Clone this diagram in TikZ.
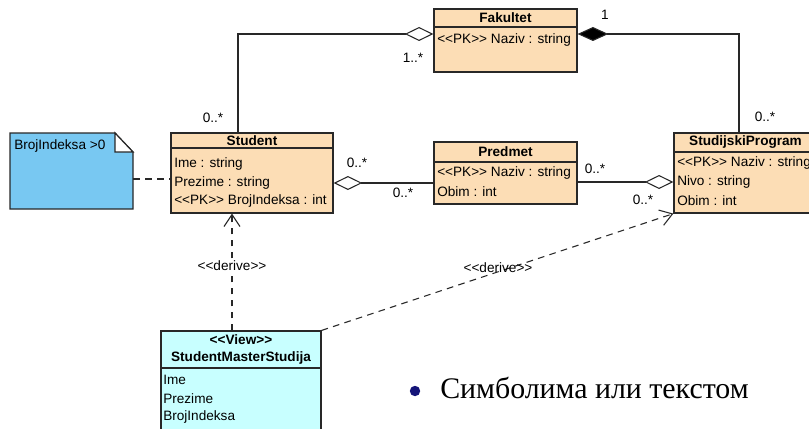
\documentclass[tikz,border=0pt]{standalone}
\usepackage{fontspec}
\setmainfont{Liberation Sans}[Ligatures=TeXOff]
\newfontfamily\bodyserif{Liberation Serif}
\usetikzlibrary{arrows.meta,fit}

\definecolor{classfill}{RGB}{252,221,181}
\definecolor{notefill}{RGB}{120,200,242}
\definecolor{viewfill}{RGB}{200,255,255}
\definecolor{bulletblue}{RGB}{20,20,120}
\definecolor{edge}{RGB}{40,40,40}

\tikzset{
  umlbox/.style={draw=edge, line width=0.9pt, inner sep=0pt},
  classbox/.style={umlbox, fill=classfill},
  viewbox/.style={umlbox, fill=viewfill},
  title/.style={font=\fontsize{10.2}{12}\selectfont\bfseries, inner sep=0pt},
  attr/.style={font=\fontsize{10.2}{12}\selectfont, anchor=west, inner sep=0pt},
  mult/.style={font=\fontsize{10.2}{12}\selectfont, inner sep=0pt},
  assoc/.style={draw=edge, line width=0.8pt},
  aggr/.tip={Diamond[open, fill=white, length=21.5pt, width=10.5pt]},
  comp/.tip={Diamond[fill=black, length=23pt, width=10.5pt]},
  barb/.tip={Straight Barb[length=9pt, width=12pt, line width=0.8pt]},
  depend/.style={assoc, dashed, dash pattern=on 5pt off 4pt},
}

\begin{document}
\begin{tikzpicture}[x=0.75pt, y=-0.75pt]
\useasboundingbox (0,0) rectangle (809,428);
\clip (0,0) rectangle (809,428);
\fill[white] (0,0) rectangle (809,428);

% ---- Fakultet
\node[classbox, fit={(434,9) (577,72)}] (fak) {};
\draw[umlbox] (fak.west |- 0,27) -- (fak.east |- 0,27);
\node[title] (fakT) at (505.5,18) {Fakultet};
\node[attr] (fakA) at (437,40) {<<PK>> Naziv : string};

% ---- Student
\node[classbox, fit={(171,133) (333,213)}] (stu) {};
\draw[umlbox] (stu.west |- 0,148) -- (stu.east |- 0,148);
\node[title] (stuT) at (252,141) {Student};
\node[attr] (stuA) at (174,164) {Ime : string};
\node[attr] (stuB) at (174,182.5) {Prezime : string};
\node[attr] (stuC) at (174,201) {<<PK>> BrojIndeksa : int};

% ---- Predmet
\node[classbox, fit={(434,142) (577,204)}] (pre) {};
\draw[umlbox] (pre.west |- 0,162) -- (pre.east |- 0,162);
\node[title] (preT) at (505.5,152) {Predmet};
\node[attr] (preA) at (437,173) {<<PK>> Naziv : string};
\node[attr] (preB) at (437,192) {Obim : int};

% ---- StudijskiProgram
\node[classbox, fit={(674,133) (817,213)}] (sp) {};
\draw[umlbox] (sp.west |- 0,152) -- (sp.east |- 0,152);
\node[title] (spT) at (745.5,142) {StudijskiProgram};
\node[attr] (spA) at (677,163) {<<PK>> Naziv : string};
\node[attr] (spB) at (677,182) {Nivo : string};
\node[attr] (spC) at (677,201) {Obim : int};

% ---- view StudentMasterStudija
\node[viewbox, fit={(161,331) (321,445)}] (view) {};
\draw[umlbox] (view.west |- 0,368) -- (view.east |- 0,368);
\node[title] (viewS) at (241,340) {<<View>>};
\node[title] (viewT) at (241,357.5) {StudentMasterStudija};
\node[attr] (viewA) at (163,380) {Ime};
\node[attr] (viewB) at (163,399) {Prezime};
\node[attr] (viewC) at (163,417) {BrojIndeksa};

% ---- constraint note
\filldraw[fill=notefill, draw=edge, line width=0.9pt]
  (10,133) -- (115,133) -- (133,152) -- (133,209) -- (10,209) -- cycle;
\filldraw[fill=white, draw=edge, line width=0.9pt]
  (115,133) -- (115,152) -- (133,152) -- cycle;
\node[inner sep=0pt, fit={(10,133) (133,209)}] (note) {};
\node[attr] (noteT) at (14,146) {BrojIndeksa >0};

% ---- associations
\draw[assoc, -{aggr}] (stu.north -| 238,0) |- (fak.west |- 0,34);
\node[mult] (m1) at (413,58) {1..*};
\node[mult] (m2) at (213,118) {0..*};

\draw[assoc, {comp}-] (fak.east |- 0,34) -| (sp.north -| 739,0);
\node[mult] (m3) at (605,15) {1};
\node[mult] (m4) at (765,117) {0..*};

\draw[assoc, {aggr}-] (stu.east |- 0,183) -- (pre.west |- 0,183);
\node[mult] (m5) at (357,163) {0..*};
\node[mult] (m6) at (403,193) {0..*};

\draw[assoc, -{aggr}] (pre.east |- 0,182) -- (sp.west |- 0,182);
\node[mult] (m7) at (595,169) {0..*};
\node[mult] (m8) at (643,200) {0..*};

% ---- note attachment
\draw[depend] (note.east |- 0,179) -- (stu.west |- 0,179);

% ---- derivations
\draw[depend, -{barb}] (view.north -| 232,0) -- (stu.south -| 232,0);
\node[mult, fill=white, inner sep=1pt] (d1) at (232,266) {<<derive>>};
\draw[depend, -{barb}] (view.north east) -- (sp.south west);
\node[mult] (d2) at (498,268) {<<derive>>};

% ---- bullet line
\fill[bulletblue] (415,391) circle (5.2);
\node[anchor=base west, inner sep=0pt, font=\bodyserif\fontsize{22.4}{26}\selectfont]
  (bul) at (440,398) {Симболима или текстом};
\end{tikzpicture}
\end{document}
